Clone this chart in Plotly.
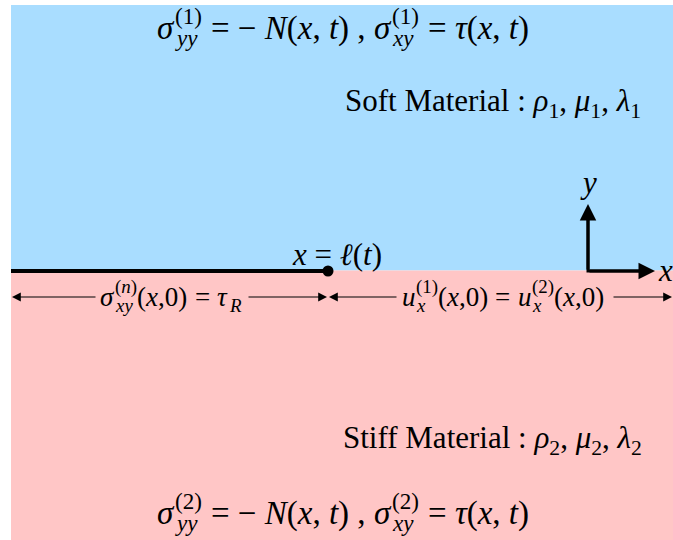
import re
import plotly.graph_objects as go

# ---- content (texts) ----
materials = ["Soft Material", "Stiff Material"]
material_params = [["ρ", "μ", "λ"], ["ρ", "μ", "λ"]]
material_index = ["1", "2"]
layer_colors = ["#a9ddff", "#ffc6c6"]
tip_label = "<i>x</i> = <i>ℓ</i>(<i>t</i>)"
axis_labels = ["<i>x</i>", "<i>y</i>"]

# ---- canvas geometry (pixel-like coordinates, y downward) ----
W, H = 673, 540
LEFT, TOP, IFACE = 11, 5, 270.5
TIP_X = 328
ORIGIN = (588, 271)
AX_LEN = 67
ROW_Y = 297

FONT = "Liberation Serif, Times New Roman, serif"
F_EQ = 33
F_BIG = 31
F_ROW = 27

# em widths (Times metrics)
TW = {' ': .25, '(': .333, ')': .333, ',': .25, '=': .564, '−': .564, '0': .5, '1': .5,
      '2': .5, ':': .278, 'x': .444, 't': .278, 'N': .667, 'y': .444, 'n': .5, 'R': .611,
      'u': .5, 'σ': .55, 'τ': .44, 'ρ': .5, 'μ': .52, 'λ': .5, 'ℓ': .42}


def em(html):
    plain = re.sub(r"<[^>]+>", "", html)
    return sum(TW.get(c, .5) for c in plain)


fig = go.Figure()
ann = []


def txt(x, y, html, size, anchor="left"):
    ann.append(dict(x=x, y=y, xref="x", yref="y", text=html, showarrow=False,
                    xanchor=anchor, yanchor="middle", borderpad=0, borderwidth=0,
                    font=dict(family=FONT, size=size, color="black")))


def run(x, y, parts, F):
    for p in parts:
        if p[0] == "m":
            txt(x, y, p[1], F)
            x += em(p[1]) * F
        elif p[0] == "s":
            sF = 0.7 * F
            if p[1]:
                txt(x, y - 0.36 * F, p[1], sF)
            if p[2]:
                txt(x, y + 0.30 * F, p[2], sF)
            x += max(em(p[1]), em(p[2])) * sF
        else:
            x += p[1] * F


def stress_eq(k):
    return [("m", "<i>σ</i>"), ("s", f"({k})", "<i>yy</i>"), ("g", .28),
            ("m", "= − <i>N</i>(<i>x</i>, <i>t</i>) ,"), ("g", .25),
            ("m", "<i>σ</i>"), ("s", f"({k})", "<i>xy</i>"), ("g", .28),
            ("m", "= <i>τ</i>(<i>x</i>, <i>t</i>)")]


left_row = [("m", "<i>σ</i>"), ("s", "(<i>n</i>)", "<i>xy</i>"), ("m", "(<i>x</i>,0)"), ("g", .28),
            ("m", "="), ("g", .28), ("m", "<i>τ</i>"), ("s", "", "<i>R</i>")]
right_row = [("m", "<i>u</i>"), ("s", "(1)", "<i>x</i>"), ("m", "(<i>x</i>,0)"), ("g", .28),
             ("m", "="), ("g", .28), ("m", "<i>u</i>"), ("s", "(2)", "<i>x</i>"), ("m", "(<i>x</i>,0)")]

# layers
shapes = [
    dict(type="rect", xref="x", yref="y", x0=LEFT, x1=W, y0=TOP, y1=IFACE,
         fillcolor=layer_colors[0], line=dict(width=0), layer="below"),
    dict(type="rect", xref="x", yref="y", x0=LEFT, x1=W, y0=IFACE, y1=H,
         fillcolor=layer_colors[1], line=dict(width=0), layer="below"),
]

# equations
run(157, 28, stress_eq(1), F_EQ)
run(157, 513, stress_eq(2), F_EQ)

for i, (name, params, k, yy, xx) in enumerate(zip(materials, material_params, material_index,
                                                   [103, 440], [345, 343])):
    ps = ", ".join(f"<i>{p}</i><sub>{k}</sub>" for p in params)
    txt(xx, yy, f"{name} : {ps}", F_BIG)

# crack
fig.add_trace(go.Scatter(x=[LEFT, TIP_X], y=[ORIGIN[1], ORIGIN[1]], mode="lines",
                         line=dict(color="black", width=4), hoverinfo="skip"))
fig.add_trace(go.Scatter(x=[TIP_X], y=[ORIGIN[1]], mode="markers",
                         marker=dict(color="black", size=11), hoverinfo="skip"))
txt(TIP_X + 9, 254, tip_label, F_BIG, anchor="center")

# coordinate axes
ox, oy = ORIGIN
fig.add_trace(go.Scatter(x=[ox, ox, ox + AX_LEN - 8], y=[oy - AX_LEN + 8, oy, oy], mode="lines",
                         line=dict(color="black", width=3), hoverinfo="skip"))
for (tx, ty) in [(ox, oy - AX_LEN), (ox + AX_LEN, oy)]:
    ann.append(dict(x=tx, y=ty, ax=ox, ay=oy, xref="x", yref="y", axref="x", ayref="y",
                    text="", showarrow=True, arrowhead=2, arrowsize=1.1, arrowwidth=3,
                    arrowcolor="black", standoff=0, startstandoff=0))
txt(ox + AX_LEN + 10, oy - 1, axis_labels[0], F_BIG, anchor="center")
txt(ox, oy - AX_LEN - 22, axis_labels[1], F_BIG, anchor="center")

# dimension arrows
run(100, ROW_Y, left_row, F_ROW)
run(402, ROW_Y, right_row, F_ROW)
for (tip, tail) in [(LEFT + 1, 97), (TIP_X - 1, 247), (TIP_X + 1, 398), (W - 1, 612)]:
    ann.append(dict(x=tip, y=ROW_Y, ax=tail, ay=ROW_Y, xref="x", yref="y", axref="x", ayref="y",
                    text="", showarrow=True, arrowhead=2, arrowsize=1.6, arrowwidth=1.1,
                    arrowcolor="black", standoff=0, startstandoff=0))

fig.update_layout(
    width=W, height=H, margin=dict(l=0, r=0, t=0, b=0),
    paper_bgcolor="white", plot_bgcolor="white", showlegend=False,
    xaxis=dict(range=[0, W], visible=False, fixedrange=True),
    yaxis=dict(range=[H, 0], visible=False, fixedrange=True),
    shapes=shapes, annotations=ann,
)
fig.write_html("out.html", config={"displayModeBar": False},
               post_script="document.body.style.margin='0px';")
